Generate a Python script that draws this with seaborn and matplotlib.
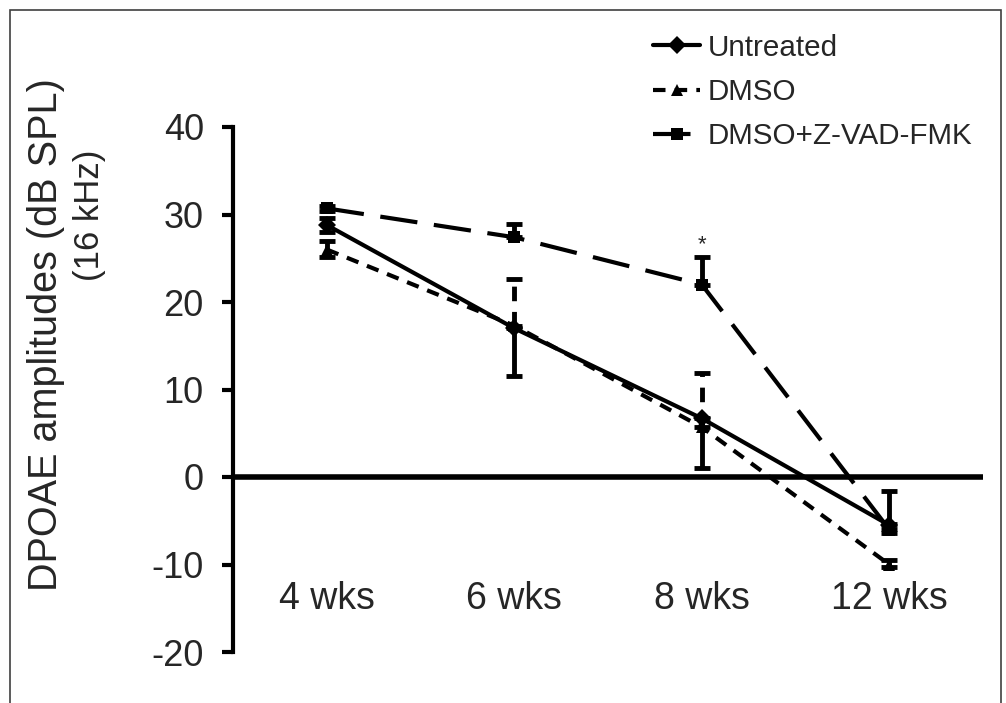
import matplotlib
matplotlib.use("Agg")
import matplotlib.pyplot as plt
from matplotlib.lines import Line2D
from matplotlib.patches import Rectangle
import pandas as pd
import seaborn as sns

weeks = ["4 wks", "6 wks", "8 wks", "12 wks"]
groups = ["Untreated", "DMSO", "DMSO+Z-VAD-FMK"]

untreated = [28.8, 17.0, 6.7, -5.5]
untreated_lo = [0.8, 5.4, 5.7, 0.4]
untreated_hi = [0.8, 0.0, 0.0, 3.9]

dmso = [26.0, 17.3, 5.7, -10.0]
dmso_lo = [0.9, 0.0, 0.0, 0.3]
dmso_hi = [1.0, 5.3, 6.2, 0.5]

zvad = [30.7, 27.4, 22.0, -6.0]
zvad_lo = [0.3, 0.0, 0.0, 0.4]
zvad_hi = [0.3, 1.5, 3.1, 0.6]

star_week = "8 wks"
star_y = 26.6


def build_frame():
    rows = []
    for g, vals in zip(groups, [untreated, dmso, zvad]):
        for i, (w, v) in enumerate(zip(weeks, vals)):
            rows.append({"pos": i, "week": w, "group": g, "value": v})
    return pd.DataFrame(rows)


def main():
    sns.set_style("white")
    plt.rcParams["font.family"] = ["Liberation Sans", "DejaVu Sans"]
    plt.rcParams["axes.unicode_minus"] = False

    df = build_frame()

    fig = plt.figure(figsize=(10.06, 7.03), dpi=100)
    ax = fig.add_axes([233 / 1006, 1 - 652 / 703, (983 - 233) / 1006, (652 - 127) / 703])

    dashes = {"Untreated": "", "DMSO": (3, 2.2), "DMSO+Z-VAD-FMK": (9, 4)}
    markers = {"Untreated": "D", "DMSO": "^", "DMSO+Z-VAD-FMK": "s"}
    palette = {g: "black" for g in groups}

    sns.lineplot(data=df, x="pos", y="value", hue="group", style="group",
                 hue_order=groups, style_order=groups, palette=palette,
                 dashes=dashes, markers=markers, markersize=9, linewidth=3,
                 markeredgewidth=0, legend=False, ax=ax, zorder=3)

    styles = {"Untreated": "-", "DMSO": (0, (3, 2.2)), "DMSO+Z-VAD-FMK": (0, (9, 4))}
    errs = {"Untreated": (untreated, untreated_lo, untreated_hi),
            "DMSO": (dmso, dmso_lo, dmso_hi),
            "DMSO+Z-VAD-FMK": (zvad, zvad_lo, zvad_hi)}
    for g in groups:
        vals, lo, hi = errs[g]
        eb = ax.errorbar(range(len(weeks)), vals, yerr=[lo, hi], fmt="none",
                         ecolor="black", elinewidth=3.5, capsize=6, capthick=3.5, zorder=2)
        for coll in eb[2]:
            coll.set_linestyle(styles[g])

    ax.axhline(0, color="black", lw=4, zorder=1)
    ax.text(weeks.index(star_week), star_y, "*", ha="center", va="center", fontsize=16)

    ax.set_xlim(-0.5, 3.5)
    ax.set_ylim(-20, 40)
    ax.set_yticks([-20, -10, 0, 10, 20, 30, 40])
    ax.set_xticks(range(len(weeks)), weeks)
    ax.set_xlabel("")
    ax.set_ylabel("")
    for s in ["top", "right", "bottom"]:
        ax.spines[s].set_visible(False)
    ax.spines["left"].set_linewidth(3)
    ax.spines["left"].set_color("black")
    ax.tick_params(axis="y", direction="out", length=8, width=3, color="black",
                   labelsize=26, pad=13, left=True)
    ax.tick_params(axis="x", length=0, labelsize=27, pad=-51)
    ax.set_facecolor("none")

    fig.text(46 / 1006, 1 - 335 / 703, "DPOAE amplitudes (dB SPL)", rotation=90,
             ha="center", va="center", fontsize=28.5)
    fig.text(90 / 1006, 1 - 215 / 703, "(16 kHz)", rotation=90,
             ha="center", va="center", fontsize=25)

    handles = []
    for g in groups:
        handles.append(Line2D([], [], color="black", lw=3, linestyle=styles[g],
                              marker=markers[g], markersize=9, markeredgewidth=0))
    fig.legend(handles, groups, loc="upper left", bbox_to_anchor=(641 / 1006, 1 - 22 / 703),
               frameon=False, fontsize=21.3, handlelength=1.6, handletextpad=0.25,
               labelspacing=0.55, borderaxespad=0)

    fig.patches.append(Rectangle((10 / 1006, -0.05), 0.995 - 10 / 1006, 1.05 - 10 / 703,
                                 transform=fig.transFigure, fill=False,
                                 edgecolor="#404040", lw=1.2))

    fig.savefig("out.png", dpi=100, facecolor="white")
    plt.close(fig)


if __name__ == "__main__":
    main()
